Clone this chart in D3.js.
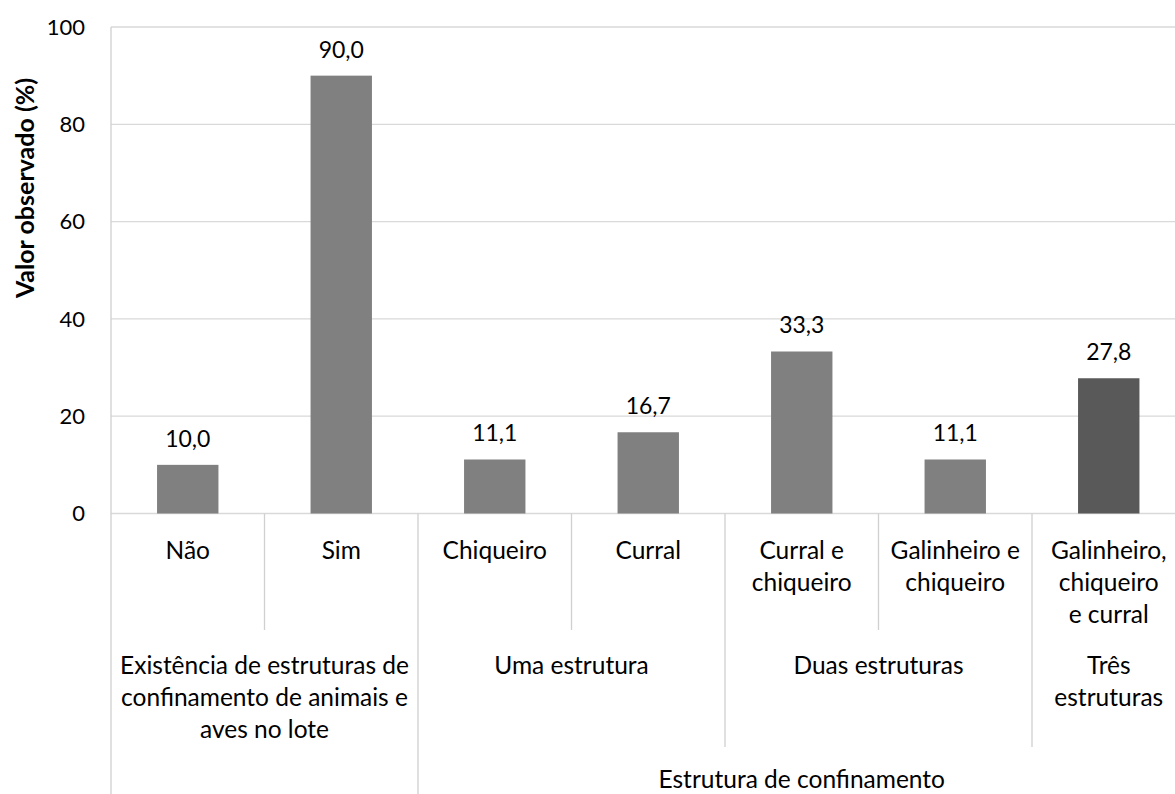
<!DOCTYPE html>
<html>
<head>
<meta charset="utf-8">
<script src="https://cdn.jsdelivr.net/npm/d3@7"></script>
<style>
  html, body { margin: 0; padding: 0; background: #fff; }
  text { font-family: Lato, "Noto Sans", sans-serif; fill: #000; }
</style>
</head>
<body>
<svg id="chart" width="1175" height="794"></svg>
<script>
// ---- data ----
const categories = ["Não", "Sim", "Chiqueiro", "Curral", "Curral e|chiqueiro", "Galinheiro e|chiqueiro", "Galinheiro,|chiqueiro|e curral"];
const values = [10.0, 90.0, 11.1, 16.7, 33.3, 11.1, 27.8];
const valueLabels = ["10,0", "90,0", "11,1", "16,7", "33,3", "11,1", "27,8"];
const barColors = ["#808080", "#808080", "#808080", "#808080", "#808080", "#808080", "#595959"];
const groupLabels = ["Existência de estruturas de|confinamento de animais e|aves no lote", "Uma estrutura", "Duas estruturas", "Três|estruturas"];
const groupStart = [0, 2, 4, 6];
const groupEnd = [1, 3, 5, 6];
const topLabels = ["", "Estrutura de confinamento"];
const topStart = [0, 2];
const topEnd = [1, 6];
const yTicks = [0, 20, 40, 60, 80, 100];
const yTitle = "Valor observado (%)";

// ---- layout ----
const svg = d3.select("#chart");
const mLeft = 111, mRight = 1185.5, mTop = 27, mBottom = 513.5;
const fsTick = 22, fsVal = 23, fsCat = 24.5;

const x = d3.scaleBand().domain(d3.range(categories.length)).range([mLeft, mRight]).paddingInner(0.6).paddingOuter(0.3);
const step = x.step();
const y = d3.scaleLinear().domain([0, 100]).range([mBottom, mTop]);

// gridlines
svg.append("g").selectAll("line").data(yTicks).join("line")
  .attr("x1", mLeft).attr("x2", mRight)
  .attr("y1", d => y(d)).attr("y2", d => y(d))
  .attr("stroke", "#d9d9d9").attr("stroke-width", 1.3);

// left border of plot area and category axis
svg.append("line").attr("x1", mLeft).attr("x2", mLeft).attr("y1", mTop).attr("y2", 794)
  .attr("stroke", "#d0d0d0").attr("stroke-width", 1.3);

// y tick labels
svg.append("g").selectAll("text").data(yTicks).join("text")
  .attr("x", 85).attr("y", d => y(d)).attr("dy", "0.35em")
  .attr("text-anchor", "end").attr("font-size", fsTick).text(d => d);

// y title
svg.append("text")
  .attr("transform", `translate(25,188) rotate(-90)`)
  .attr("text-anchor", "middle").attr("dy", "0.35em").attr("font-size", 25).attr("font-weight", "bold")
  .text(yTitle);

// bars
svg.append("g").selectAll("rect").data(values).join("rect")
  .attr("x", (d, i) => x(i)).attr("width", x.bandwidth())
  .attr("y", d => y(d)).attr("height", d => y(0) - y(d))
  .attr("fill", (d, i) => barColors[i]);

// value labels
svg.append("g").selectAll("text").data(values).join("text")
  .attr("x", (d, i) => x(i) + x.bandwidth() / 2)
  .attr("y", d => y(d) - 18)
  .attr("text-anchor", "middle").attr("font-size", fsVal)
  .text((d, i) => valueLabels[i]);

// multi-level category axis
const bandL = i => mLeft + i * step;
const lineH = 32.3;
function multiline(g, str, cx, cy) {
  const t = g.append("text").attr("x", cx).attr("y", cy).attr("text-anchor", "middle").attr("font-size", fsCat);
  str.split("|").forEach((s, k) => t.append("tspan").attr("x", cx).attr("y", cy + k * lineH).attr("dy", "0.35em").text(s));
}
const axisG = svg.append("g");
for (let i = 1; i < categories.length; i++) {
  let depth = 630;
  if (groupStart.includes(i)) depth = topStart.includes(i) ? 794 : 747;
  axisG.append("line").attr("x1", bandL(i)).attr("x2", bandL(i)).attr("y1", mBottom).attr("y2", depth)
    .attr("stroke", "#d0d0d0").attr("stroke-width", 1.3);
}
categories.forEach((c, i) => multiline(axisG, c, x(i) + x.bandwidth() / 2, 550));
groupLabels.forEach((g, j) => multiline(axisG, g, (bandL(groupStart[j]) + bandL(groupEnd[j] + 1)) / 2, 665));
topLabels.forEach((t, j) => { if (t) multiline(axisG, t, (bandL(topStart[j]) + bandL(topEnd[j] + 1)) / 2, 779); });
</script>
</body>
</html>
